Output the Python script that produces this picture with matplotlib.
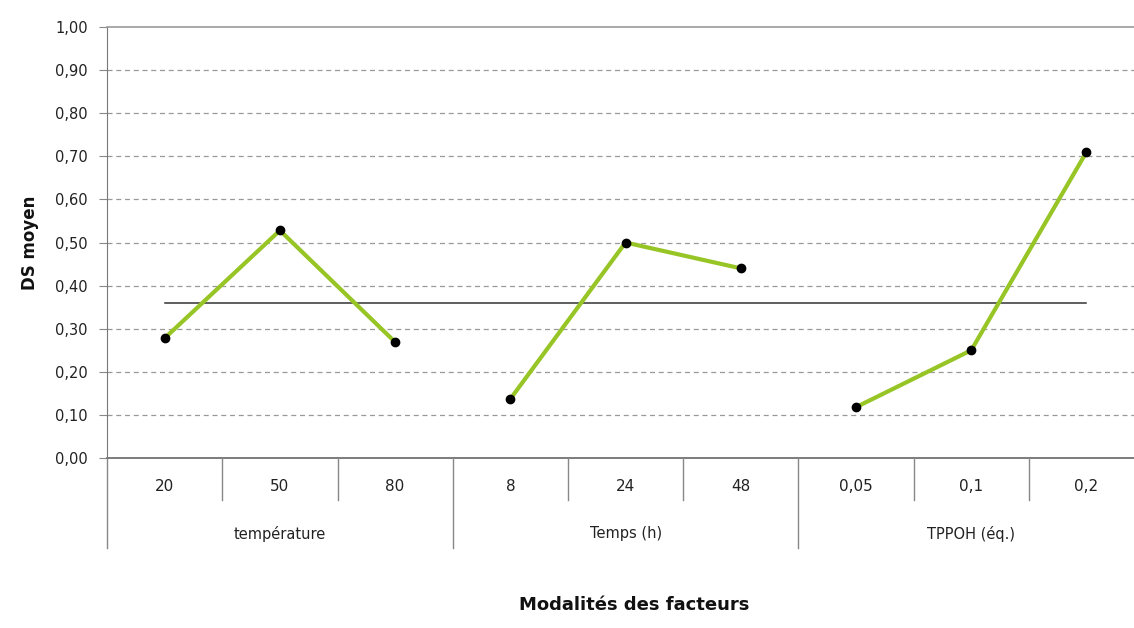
import numpy as np
import matplotlib
matplotlib.use("Agg")
import matplotlib.pyplot as plt
from matplotlib.transforms import blended_transform_factory

# data
groups = ["température", "Temps (h)", "TPPOH (éq.)"]
levels = [["20", "50", "80"], ["8", "24", "48"], ["0,05", "0,1", "0,2"]]
ds_temp = [0.278, 0.528, 0.269]
ds_time = [0.137, 0.500, 0.440]
ds_tppoh = [0.118, 0.250, 0.710]
ds_mean = 0.359

plt.rcParams['font.family'] = ['DejaVu Sans']

fig = plt.figure(figsize=(11.34, 6.28), dpi=100)
fig.patch.set_facecolor('white')
# axes run past the right edge of the figure, as in the reference crop
ax = fig.add_axes([0.0944, 0.2707, 0.9145, 0.6863])

green = '#97c525'
series = [ds_temp, ds_time, ds_tppoh]
for g, vals in enumerate(series):
    x = np.arange(len(vals)) + 3 * g
    ax.plot(x, vals, color=green, lw=3.0, solid_capstyle='round', zorder=3)
    ax.plot(x, vals, 'o', color='black', ms=6, zorder=4)

n_cat = sum(len(l) for l in levels)
ax.plot([0, n_cat - 1], [ds_mean, ds_mean], color='#333333', lw=1.1, zorder=2)

ax.set_xlim(-0.5, n_cat - 0.5)
ax.set_ylim(0, 1.0)
ax.set_yticks(np.arange(0, 1.01, 0.1))
ax.set_yticklabels([f"{v:.2f}".replace('.', ',') for v in np.arange(0, 1.01, 0.1)],
                   fontsize=10.5, color='#222222')
ax.tick_params(axis='y', length=6, color='#888888', pad=8)
ax.set_xticks([])
for y in np.arange(0.1, 0.95, 0.1):
    ax.axhline(y, color='#999999', lw=0.9, ls=(0, (4, 3)), zorder=1)

for s in ['right', 'bottom']:
    ax.spines[s].set_visible(False)
ax.spines['left'].set_color('#777777')
ax.spines['top'].set_color('#999999')
ax.spines['top'].set_linewidth(1.2)

# two-level category axis below the plot
tr = blended_transform_factory(ax.transData, ax.transAxes)
ax.plot([-0.5, n_cat - 0.5], [0, 0], color='#666666', lw=1.2, transform=tr, clip_on=False)
for b in np.arange(-0.5, n_cat, 1.0):
    if (b + 0.5) % 3 == 0:
        ax.plot([b, b], [0, -0.209], color='#888888', lw=1.0, transform=tr, clip_on=False)
    else:
        ax.plot([b, b], [0, -0.097], color='#888888', lw=1.0, transform=tr, clip_on=False)

i = 0
for g, labs in enumerate(levels):
    for lab in labs:
        ax.text(i, -0.067, lab, transform=tr, ha='center', va='center', fontsize=11, color='#222222')
        i += 1
    ax.text(3 * g + 1, -0.176, groups[g], transform=tr, ha='center', va='center',
            fontsize=10.5, color='#222222')

ax.text(0.508, -0.341, "Modalités des facteurs", transform=ax.transAxes, ha='center',
        va='center', fontsize=13, fontweight='bold', color='#111111')
ax.text(-0.074, 0.5, "DS moyen", transform=ax.transAxes, ha='center', va='center',
        rotation=90, fontsize=12, fontweight='bold', color='#111111')

fig.savefig("out.png", dpi=100)
